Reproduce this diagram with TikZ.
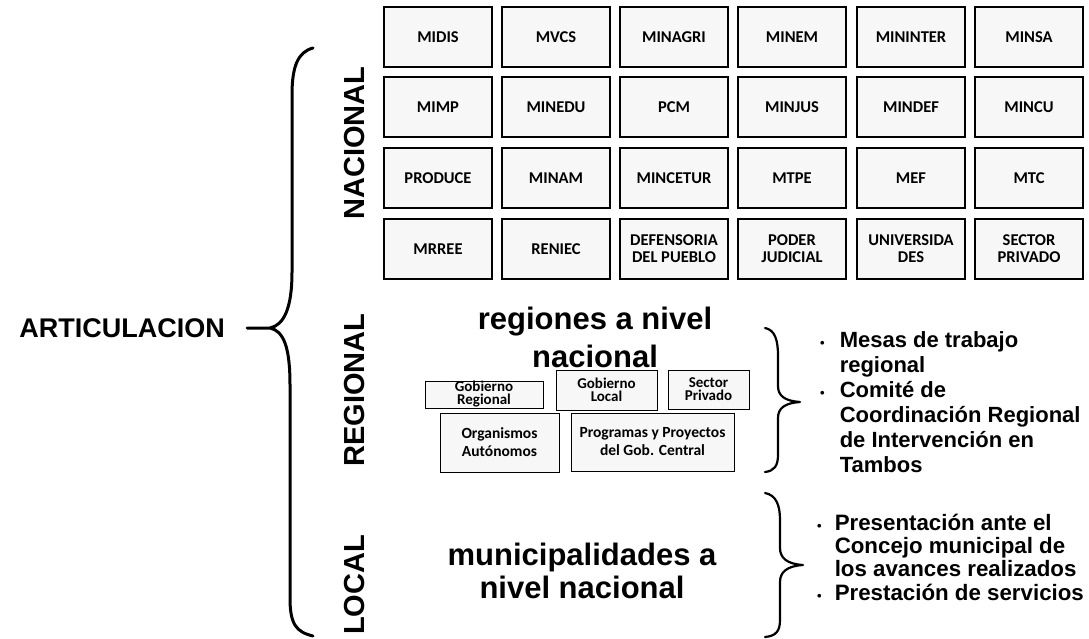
\documentclass[tikz,border=0pt]{standalone}
\usepackage{fontspec}
\setmainfont{Liberation Sans}
\newfontfamily\calib{Carlito}
\begin{document}
\begin{tikzpicture}[x=1pt,y=-1pt,
 gbox/.style={draw=black, line width=1.1pt, fill=gray!6, minimum width=108pt, minimum height=60pt, inner sep=0pt, align=center, font=\calib\bfseries\fontsize{16.5}{17}\selectfont},
 sbox/.style={draw=black, line width=1pt, fill=gray!6, inner sep=0pt, align=center, font=\calib\bfseries\fontsize{15}{13}\selectfont},
 lbox/.style={sbox, font=\calib\bfseries\fontsize{15.5}{18}\selectfont},
 brace/.style={line width=2.2pt, line cap=round, line join=round},
 big/.style={font=\bfseries\fontsize{27}{32}\selectfont, inner sep=0pt},
 side/.style={font=\bfseries\fontsize{29}{32}\selectfont, inner sep=0pt, rotate=90},
 head/.style={font=\bfseries\fontsize{31}{38}\selectfont, inner sep=0pt, align=center},
 notes/.style={inner sep=0pt, anchor=north west}
]
\useasboundingbox (0,0) rectangle (1089,639);

% left label and brace
\node[big, anchor=east] (art) at (225,328) {ARTICULACION};
\coordinate (tip) at (247,328);
\draw[brace, line width=3pt] (313,48) .. controls (298,52) and (292,66) .. (292,95) -- (292,272)
  .. controls (292,308) and (284,325) .. (270,328) -- (tip) -- (270,328)
  .. controls (284,331) and (290,348) .. (290,385) -- (290,598)
  .. controls (290,624) and (296,632) .. (313,636);

% level labels
\node[side] (nac) at (355,143) {NACIONAL};
\node[side] (reg) at (355,390) {REGIONAL};
\node[side] (loc) at (355,585) {LOCAL};

% national grid
\node[gbox] (midis) at (438,37) {MIDIS};
\node[gbox] (mvcs) at (556,37) {MVCS};
\node[gbox] (minagri) at (674,37) {MINAGRI};
\node[gbox] (minem) at (792,37) {MINEM};
\node[gbox] (mininter) at (911,37) {MININTER};
\node[gbox] (minsa) at (1029,37) {MINSA};

\node[gbox] (mimp) at (438,107) {MIMP};
\node[gbox] (minedu) at (556,107) {MINEDU};
\node[gbox] (pcm) at (674,107) {PCM};
\node[gbox] (minjus) at (792,107) {MINJUS};
\node[gbox] (mindef) at (911,107) {MINDEF};
\node[gbox] (mincu) at (1029,107) {MINCU};

\node[gbox] (produce) at (438,178) {PRODUCE};
\node[gbox] (minam) at (556,178) {MINAM};
\node[gbox] (mincetur) at (674,178) {MINCETUR};
\node[gbox] (mtpe) at (792,178) {MTPE};
\node[gbox] (mef) at (911,178) {MEF};
\node[gbox] (mtc) at (1029,178) {MTC};

\node[gbox] (mrree) at (438,249) {MRREE};
\node[gbox] (reniec) at (556,249) {RENIEC};
\node[gbox] (defensoria) at (674,249) {DEFENSORIA\\DEL PUEBLO};
\node[gbox] (poder) at (792,249) {PODER\\JUDICIAL};
\node[gbox] (univ) at (911,249) {UNIVERSIDA\\DES};
\node[gbox] (sector) at (1029,249) {SECTOR\\PRIVADO};

% regional
\node[head] (regtxt) at (595,337) {regiones a nivel\\nacional};
\node[sbox, minimum width=118pt, minimum height=27pt] (gobreg) at (484,394.5) {Gobierno\\Regional};
\node[sbox, minimum width=101pt, minimum height=40pt] (gobloc) at (606.5,390) {Gobierno\\Local};
\node[sbox, minimum width=81pt, minimum height=39pt] (secpriv) at (708.5,389.5) {Sector\\Privado};
\node[lbox, minimum width=119pt, minimum height=59pt] (orgaut) at (499.5,442.5) {Organismos\\Autónomos};
\node[lbox, minimum width=163pt, minimum height=58pt] (progproy) at (652.5,442) {Programas y Proyectos\\del Gob. Central};

\coordinate (rtip) at (800,402);
\draw[brace] (765,328) .. controls (775,330) and (778,340) .. (778,356) -- (778,386)
  .. controls (778,396) and (785,401) .. (rtip)
  .. controls (785,403) and (778,408) .. (778,418) -- (778,455)
  .. controls (778,466) and (774,471) .. (765,472);

\node[notes, font=\bfseries\fontsize{22}{25}\selectfont] (regnotes) at (820,330) {%
\begin{tabular}{@{}l@{\hspace{15pt}}l@{}}
{\fontsize{13}{13}\selectfont\textbullet} & Mesas de trabajo\\
 & regional\\
{\fontsize{13}{13}\selectfont\textbullet} & Comité de\\
 & Coordinación Regional\\
 & de Intervención en\\
 & Tambos
\end{tabular}};

% local
\node[head, font=\bfseries\fontsize{31}{33}\selectfont] (loctxt) at (582,571) {municipalidades a\\nivel nacional};

\coordinate (ltip) at (803,565);
\draw[brace] (765,493) .. controls (776,495) and (780,505) .. (780,520) -- (780,548)
  .. controls (780,558) and (787,564) .. (ltip)
  .. controls (787,566) and (780,572) .. (780,582) -- (780,620)
  .. controls (780,631) and (776,636) .. (765,637);

\node[notes, font=\bfseries\fontsize{22.3}{23.3}\selectfont] (locnotes) at (817,513.5) {%
\begin{tabular}{@{}l@{\hspace{13pt}}l@{}}
{\fontsize{13}{13}\selectfont\textbullet} & Presentación ante el\\
 & Concejo municipal de\\
 & los avances realizados\\
{\fontsize{13}{13}\selectfont\textbullet} & Prestación de servicios
\end{tabular}};
\end{tikzpicture}
\end{document}
